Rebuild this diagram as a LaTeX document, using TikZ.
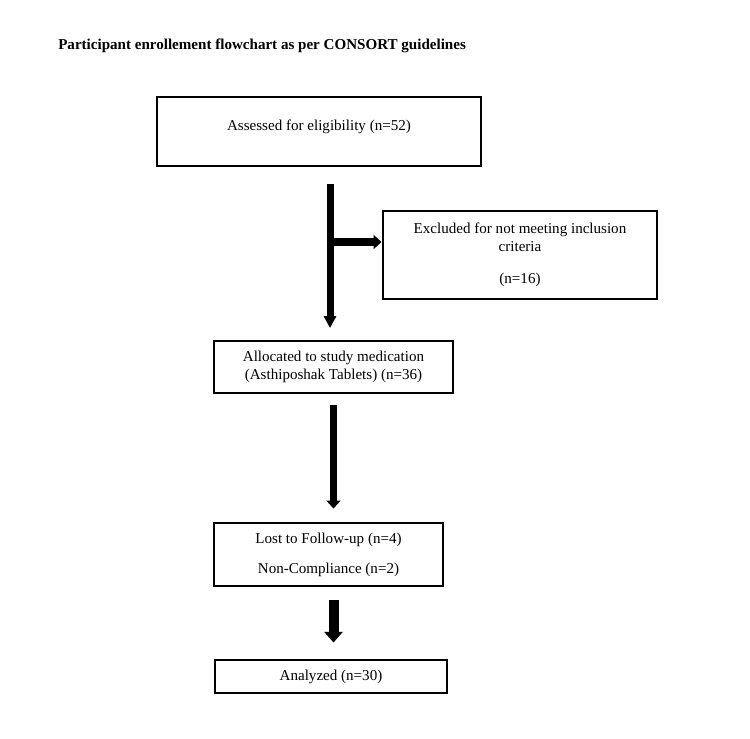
\documentclass[tikz,border=0pt]{standalone}
\usepackage{fontspec}
\setmainfont{Liberation Serif}
\usetikzlibrary{arrows.meta}

\begin{document}
\begin{tikzpicture}[x=0.75pt,y=-0.75pt,
    flowbox/.style={draw,line width=2.2pt,align=center,inner sep=0pt,
      font=\fontsize{11.3}{13.5}\selectfont},
    thickarrow/.style={line width=#1}]
  % page frame in pixel units, y going down
  \useasboundingbox (0,0) rectangle (750,739);
  \node[anchor=west,inner sep=0pt,font=\fontsize{11.3}{13}\selectfont\bfseries]
    (title) at (58,46) {Participant enrollement flowchart as per CONSORT guidelines};
  % the steps of the enrolment
  \node[flowbox,minimum width=243pt,minimum height=51.75pt,text depth=9pt]
    (assess) at (319,131.5) {Assessed for eligibility (n=52)};
  \node[flowbox,minimum width=205.5pt,minimum height=66pt]
    (excl) at (520,255) {Excluded for not meeting inclusion\\criteria\\[10.5pt](n=16)};
  \node[flowbox,minimum width=179.25pt,minimum height=39pt]
    (alloc) at (333.5,367) {Allocated to study medication\\(Asthiposhak Tablets) (n=36)};
  \node[flowbox,minimum width=171.75pt,minimum height=47.25pt]
    (lost) at (328.5,554.5) {Lost to Follow-up (n=4)\\[9pt]Non-Compliance (n=2)};
  \node[flowbox,minimum width=174pt,minimum height=24.75pt]
    (anal) at (331,676.5) {Analyzed (n=30)};
  % arrows between the steps
  \coordinate (split) at (330,242);
  \draw[thickarrow=5.25pt,-{Triangle[length=9pt,width=9pt]},
    shorten <=12.75pt,shorten >=8.6pt] (split |- assess.south) -- (split |- alloc.north);
  \draw[thickarrow=6pt,-{Triangle[length=6pt,width=10.5pt]}] (split) -- (excl.west |- split);
  \draw[thickarrow=5.25pt,-{Triangle[length=6pt,width=10.5pt]},
    shorten <=8.25pt,shorten >=9.75pt] (alloc.south) -- (alloc.south |- lost.north);
  \draw[thickarrow=7.5pt,-{Triangle[length=8pt,width=13.5pt]},
    shorten <=9.75pt,shorten >=12pt] (lost.south -| alloc.south) -- (alloc.south |- anal.north);
\end{tikzpicture}
\end{document}
